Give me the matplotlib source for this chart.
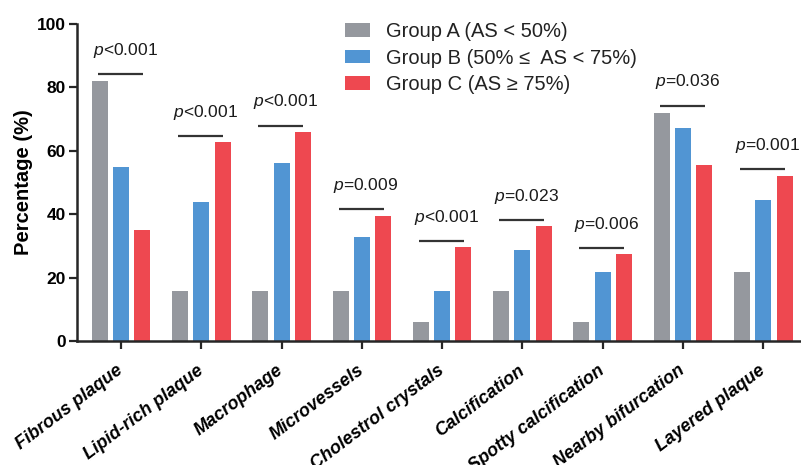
import numpy as np
import matplotlib
matplotlib.use('Agg')
import matplotlib.pyplot as plt

plt.rcParams['font.family'] = ['Liberation Sans', 'DejaVu Sans']
plt.rcParams['mathtext.fontset'] = 'custom'
plt.rcParams['mathtext.rm'] = 'Liberation Sans'
plt.rcParams['mathtext.it'] = 'Liberation Sans:italic'

categories = ['Fibrous plaque', 'Lipid-rich plaque', 'Macrophage', 'Microvessels',
              'Cholestrol crystals', 'Calcification', 'Spotty calcification',
              'Nearby bifurcation', 'Layered plaque']
group_a = [82.1, 15.8, 15.8, 15.8, 5.9, 15.8, 5.9, 72.0, 21.9]
group_b = [54.9, 43.9, 56.2, 32.9, 15.7, 28.7, 21.7, 67.1, 44.5]
group_c = [35.0, 62.7, 65.8, 39.4, 29.6, 36.2, 27.4, 55.4, 52.1]
labels = ['Group A (AS < 50%)', 'Group B (50% \u2264  AS < 75%)', 'Group C (AS \u2265 75%)']
p_texts = ['$p$<0.001', '$p$<0.001', '$p$<0.001', '$p$=0.009', '$p$<0.001',
           '$p$=0.023', '$p$=0.006', '$p$=0.036', '$p$=0.001']
p_lines = [84.2, 64.6, 67.9, 41.5, 31.5, 38.1, 29.3, 74.2, 54.2]

colors = ['#95989e', '#5195d3', '#ee4850']
dark = '#262626'


def main():
    fig = plt.figure(figsize=(8.01, 4.65), dpi=100)
    ax = fig.add_axes([0.096, 0.2667, 0.904, 0.6815])

    x = np.arange(len(categories))
    w = 0.2
    off = 0.265
    for i, (vals, c, lab) in enumerate(zip([group_a, group_b, group_c], colors, labels)):
        ax.bar(x + (i - 1) * off, vals, width=w, color=c, label=lab, zorder=2)

    for xi, y, t in zip(x, p_lines, p_texts):
        ax.plot([xi - 0.29, xi + 0.27], [y, y], color='#333333', linewidth=1.6,
                solid_capstyle='butt')
        ax.text(xi + 0.05, y + 4.6, t, ha='center', va='bottom', fontsize=12.5, color='#1a1a1a')

    ax.set_xlim(-0.55, 8.47)
    ax.set_ylim(0, 100)
    ax.set_yticks(np.arange(0, 101, 20))
    ax.set_yticklabels(['0', '20', '40', '60', '80', '100'], fontsize=12.5, fontweight='bold')
    ax.set_xticks(x)
    ax.set_xticklabels(categories, fontsize=13, fontweight='bold', fontstyle='italic',
                       rotation=37, ha='right', va='center', rotation_mode='anchor')
    ax.tick_params(axis='x', length=6, width=1.6, color=dark, pad=14)
    ax.tick_params(axis='y', length=6, width=1.6, color=dark, pad=2)

    for s in ['top', 'right']:
        ax.spines[s].set_visible(False)
    for s in ['left', 'bottom']:
        ax.spines[s].set_linewidth(1.8)
        ax.spines[s].set_color(dark)

    ax.set_ylabel('Percentage (%)', fontsize=14.5, fontweight='bold', labelpad=3)

    ax.legend(loc='upper left', bbox_to_anchor=(0.431, 0.953), bbox_transform=fig.transFigure,
              frameon=False, fontsize=14.5, handlelength=1.25, handleheight=0.65,
              handletextpad=0.78, labelspacing=0.38, borderpad=0, borderaxespad=0,
              labelcolor='#222222')

    plt.savefig('out.png', dpi=100)


if __name__ == '__main__':
    main()
